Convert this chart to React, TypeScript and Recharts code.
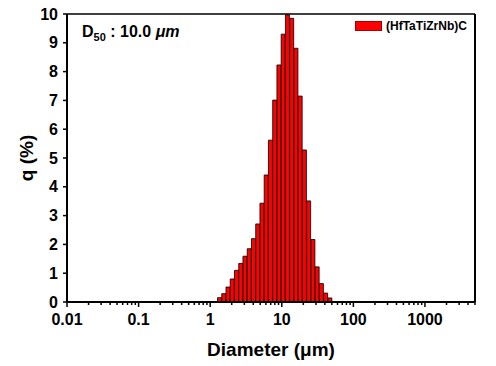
import React from 'react';
import { BarChart, Bar, XAxis, YAxis, ReferenceLine, Legend } from 'recharts';

// Bin centres (µm) and volume fraction q (%)
const diameters = [
  1.354, 1.552, 1.779, 2.039, 2.338, 2.68, 3.072, 3.522, 4.037, 4.628, 5.305, 6.081, 6.971, 7.991,
  9.161, 10.5, 12.04, 13.8, 15.82, 18.13, 20.79, 23.82, 27.31, 31.31, 35.89, 41.14, 47.16,
];
const qValues = [
  0.15, 0.29, 0.52, 0.8, 1.1, 1.34, 1.59, 1.85, 2.2, 2.71, 3.43, 4.41, 5.62, 7.01,
  8.23, 9.3, 9.97, 9.85, 8.81, 7.15, 5.28, 3.51, 2.17, 1.22, 0.64, 0.31, 0.14,
];
const majorTickValues = [0.01, 0.1, 1, 10, 100, 1000];
const majorTickLabels = ['0.01', '0.1', '1', '10', '100', '1000'];
const minorMultipliers = [2, 3, 4, 5, 6, 7, 8, 9];
const yTicks = [0, 1, 2, 3, 4, 5, 6, 7, 8, 9, 10];
const xMin = 0.01;
const xMax = 5000;
const seriesName = '(HfTaTiZrNb)C';
const xTitle = 'Diameter (μm)';
const yTitle = 'q (%)';

const FONT = 'Arial, "Liberation Sans", sans-serif';

const data = diameters.map((d, i) => ({ x: Math.log10(d), q: qValues[i] }));
const majorLogs = majorTickValues.map((v) => Math.log10(v));
const minorLogs: number[] = [];
majorTickValues.forEach((v) => {
  minorMultipliers.forEach((m) => {
    const val = v * m;
    if (val <= xMax) minorLogs.push(Math.log10(val));
  });
});
const allXTicks = [...majorLogs, ...minorLogs].sort((a, b) => a - b);

const XTick = (props: any) => {
  const { x, y, payload } = props;
  const idx = majorLogs.findIndex((v) => Math.abs(v - payload.value) < 1e-9);
  const major = idx >= 0;
  return (
    <g>
      <line x1={x} x2={x} y1={y} y2={y + (major ? 5 : 3)} stroke="#000" strokeWidth={1.5} />
      {major && (
        <text x={x} y={y + 23} textAnchor="middle" fontFamily={FONT} fontWeight="bold" fontSize={16} fill="#000">
          {majorTickLabels[idx]}
        </text>
      )}
    </g>
  );
};

const LegendContent = (props: any) => {
  const { payload } = props;
  return (
    <div style={{ display: 'flex', flexDirection: 'column' }}>
      {(payload || []).map((p: any, i: number) => (
        <div key={i} style={{ display: 'flex', alignItems: 'center' }}>
          <div style={{ width: 27, height: 10, background: p.color, border: '0.5px solid #a00', boxSizing: 'border-box' }} />
          <span style={{ marginLeft: 4, fontFamily: FONT, fontWeight: 'bold', fontSize: 12, color: '#000' }}>{p.value}</span>
        </div>
      ))}
    </div>
  );
};

export default function App() {
  return (
    <div style={{ position: 'relative', width: 496, height: 366, marginTop: -8, marginLeft: -8 }}>
      <BarChart
        width={496}
        height={366}
        data={data}
        margin={{ top: 14, right: 21, bottom: 0, left: 22 }}
        barCategoryGap={0}
        barGap={0}
      >
        <XAxis
          dataKey="x"
          type="number"
          scale="linear"
          domain={[Math.log10(xMin), Math.log10(xMax)]}
          ticks={allXTicks}
          interval={0}
          tickSize={0}
          tickMargin={0}
          tickLine={false}
          tick={<XTick />}
          height={64}
          axisLine={{ stroke: '#000', strokeWidth: 2 }}
          allowDataOverflow
        />
        <YAxis
          type="number"
          domain={[0, 10]}
          ticks={yTicks}
          interval={0}
          width={45}
          tickSize={4}
          tickMargin={5}
          tickLine={{ stroke: '#000', strokeWidth: 1.5 }}
          axisLine={{ stroke: '#000', strokeWidth: 2 }}
          tick={{ fill: '#000', fontFamily: FONT, fontWeight: 'bold', fontSize: 16 }}
          allowDataOverflow
        />
        <ReferenceLine y={10} stroke="#000" strokeWidth={1.5} ifOverflow="visible" />
        <ReferenceLine x={Math.log10(xMax)} stroke="#000" strokeWidth={2} ifOverflow="visible" />
        <Bar
          dataKey="q"
          name={seriesName}
          fill="#ff0000"
          stroke="#000"
          strokeWidth={0.8}
          isAnimationActive={false}
        />
        <Legend
          layout="horizontal"
          verticalAlign="middle"
          align="center"
          content={<LegendContent />}
          wrapperStyle={{ position: 'absolute', left: 355, top: 19, width: 130, height: 14 }}
        />
        <text x={26} y={158} transform="rotate(-90 26 158)" textAnchor="middle" dominantBaseline="central"
          fontFamily={FONT} fontWeight="bold" fontSize={19} fill="#000">
          {yTitle}
        </text>
        <text x={271} y={356} textAnchor="middle" fontFamily={FONT} fontWeight="bold" fontSize={19} fill="#000">
          {xTitle}
        </text>
        <text x={82} y={37} fontFamily={FONT} fontWeight="bold" fontSize={16} fill="#000">
          D<tspan fontSize={11} dy={4}>50</tspan>
          <tspan dy={-4}> : 10.0 </tspan>
          <tspan fontStyle="italic">μm</tspan>
        </text>
      </BarChart>
    </div>
  );
}
